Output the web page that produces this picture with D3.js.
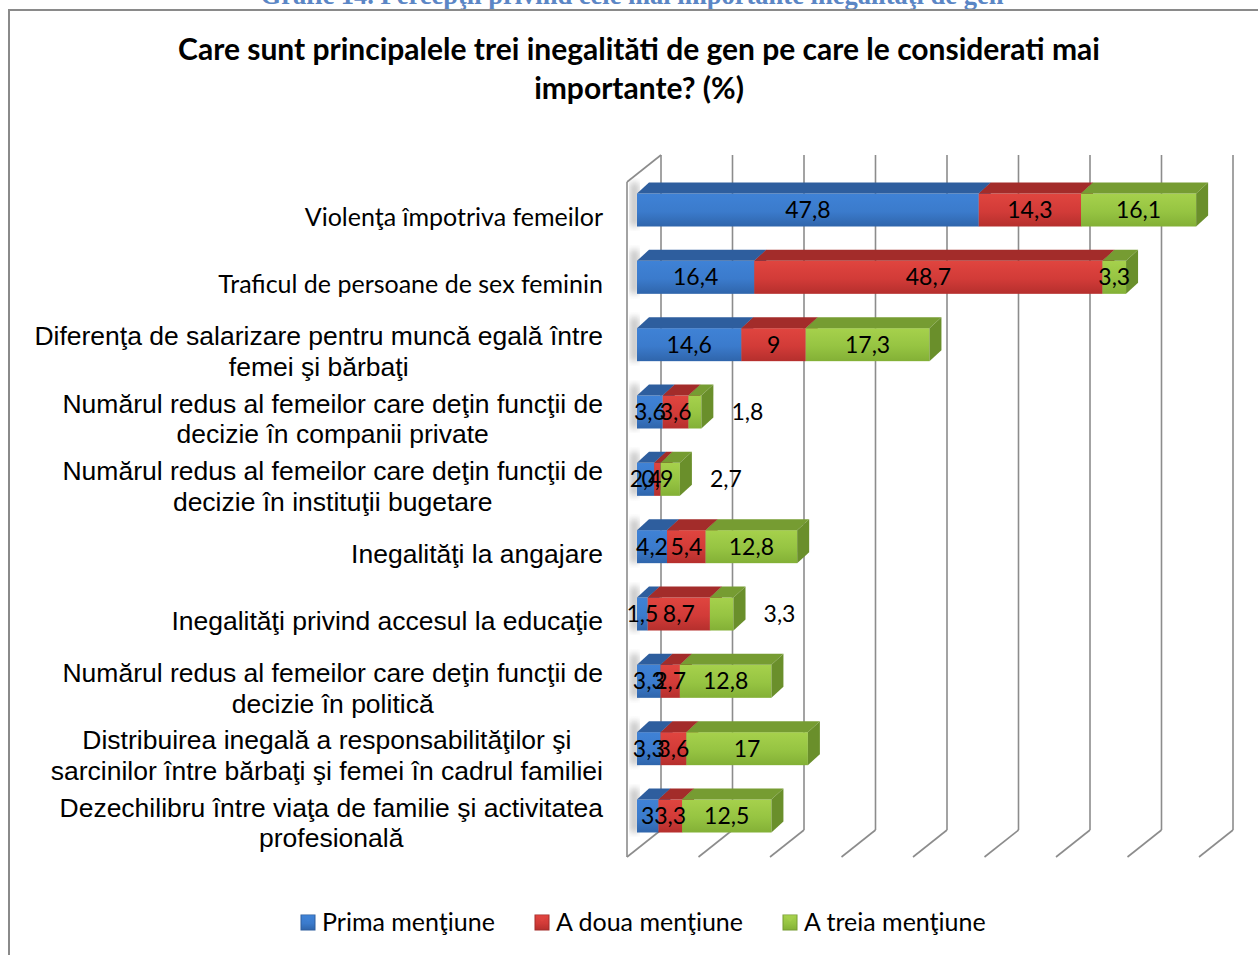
<!DOCTYPE html>
<html>
<head>
<meta charset="utf-8">
<script src="https://cdn.jsdelivr.net/npm/d3@7"></script>
<style>
  body { margin: 0; background: #fff; }
  svg { display: block; }
</style>
</head>
<body>
<div id="chart"></div>
<script>
// categories, top to bottom (\n = line break)
var categories = [
  "Violenţa împotriva femeilor",
  "Traficul de persoane de sex feminin",
  "Diferenţa de salarizare pentru muncă egală între\nfemei şi bărbaţi",
  "Numărul redus al femeilor care deţin funcţii de\ndecizie în companii private",
  "Numărul redus al femeilor care deţin funcţii de\ndecizie în instituţii bugetare",
  "Inegalităţi la angajare",
  "Inegalităţi privind accesul la educaţie",
  "Numărul redus al femeilor care deţin funcţii de\ndecizie în politică",
  "Distribuirea inegală a responsabilităţilor şi\nsarcinilor între bărbaţi şi femei în cadrul familiei",
  "Dezechilibru între viaţa de familie şi activitatea\nprofesională"
];
var prima  = [47.8, 16.4, 14.6, 3.6, 2.4, 4.2, 1.5, 3.3, 3.3, 3];
var aDoua  = [14.3, 48.7, 9, 3.6, 0.9, 5.4, 8.7, 2.7, 3.6, 3.3];
var aTreia = [16.1, 3.3, 17.3, 1.8, 2.7, 12.8, 3.3, 12.8, 17, 12.5];
var seriesNames = ["Prima menţiune", "A doua menţiune", "A treia menţiune"];
var xTicks = [0, 10, 20, 30, 40, 50, 60, 70, 80];

var W = 1258, H = 955;
var svg = d3.select("#chart").append("svg").attr("width", W).attr("height", H);
var defs = svg.append("defs");

// colours: front gradient (top, mid, bottom), top face, right face
var colors = [
  { f: ["#3f82d6", "#3b7bcc", "#2f65ab"], top: "#2e5e9e", side: "#2a558f" },
  { f: ["#e0453f", "#d23b38", "#b52f2d"], top: "#a32c2a", side: "#8e2624" },
  { f: ["#a6d14c", "#96c442", "#83b036"], top: "#769c32", side: "#6a8f2b" }
];
colors.forEach(function (c, i) {
  var g = defs.append("linearGradient").attr("id", "g" + i)
    .attr("x1", 0).attr("y1", 0).attr("x2", 0).attr("y2", 1);
  g.append("stop").attr("offset", "0%").attr("stop-color", c.f[0]);
  g.append("stop").attr("offset", "55%").attr("stop-color", c.f[1]);
  g.append("stop").attr("offset", "100%").attr("stop-color", c.f[2]);
});
defs.append("filter").attr("id", "blur").append("feGaussianBlur").attr("stdDeviation", 3);

// header (cut at top) and frame
svg.append("text")
  .attr("x", 632).attr("y", 4)
  .attr("text-anchor", "middle")
  .style("font-family", "'Liberation Serif', serif")
  .style("font-weight", "bold").style("font-size", "26.5px")
  .style("fill", "#5b86c5")
  .text("Grafic 14. Percepţii privind cele mai importante inegalităţi de gen");

svg.append("rect")
  .attr("x", 9).attr("y", 10).attr("width", 1270).attr("height", 960)
  .attr("fill", "none").attr("stroke", "#8a8a8a").attr("stroke-width", 2);

// title
var title = svg.append("text")
  .attr("text-anchor", "middle")
  .style("font-family", "Lato, sans-serif")
  .style("font-weight", "bold").style("font-size", "30px")
  .style("fill", "#000");
title.append("tspan").attr("x", 639).attr("y", 60)
  .text("Care sunt principalele trei inegalităti de gen pe care le considerati mai");
title.append("tspan").attr("x", 639).attr("y", 99).text("importante? (%)");

// scales
var x = d3.scaleLinear().domain([0, 80]).range([637, 1209]);
var y = d3.scalePoint().domain(d3.range(categories.length)).range([210, 816]);
var BH = 33, DX = 12, DY = 11;
var backOff = 24, frontOff = -10, wallTop = 155, wallBottom = 830, depthY = 27;

// walls / gridlines
var grid = svg.append("g").attr("stroke", "#8c8c8c").attr("stroke-width", 1.6).attr("fill", "none");
grid.selectAll("line.v").data(xTicks).enter().append("line")
  .attr("x1", function (d) { return x(d) + backOff; })
  .attr("x2", function (d) { return x(d) + backOff; })
  .attr("y1", wallTop).attr("y2", wallBottom);
grid.selectAll("line.f").data(xTicks).enter().append("line")
  .attr("x1", function (d) { return x(d) + backOff; })
  .attr("x2", function (d) { return x(d) + frontOff; })
  .attr("y1", wallBottom).attr("y2", wallBottom + depthY);
grid.append("line")
  .attr("x1", x(0) + backOff).attr("y1", wallTop)
  .attr("x2", x(0) + frontOff).attr("y2", wallTop + depthY);
grid.append("line")
  .attr("x1", x(0) + frontOff).attr("y1", wallTop + depthY)
  .attr("x2", x(0) + frontOff).attr("y2", wallBottom + depthY);

// data rows
var rows = categories.map(function (c, i) {
  return { cat: c, p: prima[i], d: aDoua[i], t: aTreia[i] };
});
var stacked = d3.stack().keys(["p", "d", "t"])(rows);
var fmt = function (v) { return String(v).replace(".", ","); };

// bar shadows on the side wall
svg.append("g").selectAll("rect").data(rows).enter().append("rect")
  .attr("x", x(0) - 7).attr("width", 9)
  .attr("y", function (d, i) { return y(i) - BH / 2 - DY; })
  .attr("height", BH + DY)
  .attr("fill", "#9a9a9a").attr("opacity", 0.55)
  .attr("filter", "url(#blur)");

var bars = svg.append("g");
rows.forEach(function (r, i) {
  var top = y(i) - BH / 2;
  stacked.forEach(function (s, k) {
    var x0 = x(s[i][0]), x1 = x(s[i][1]);
    bars.append("rect")
      .attr("x", x0).attr("y", top).attr("width", x1 - x0).attr("height", BH)
      .attr("fill", "url(#g" + k + ")");
    bars.append("path")
      .attr("d", "M" + x0 + "," + top + "L" + (x0 + DX) + "," + (top - DY) +
        "L" + (x1 + DX) + "," + (top - DY) + "L" + x1 + "," + top + "Z")
      .attr("fill", colors[k].top);
    bars.append("path")
      .attr("d", "M" + x1 + "," + top + "L" + (x1 + DX) + "," + (top - DY) +
        "L" + (x1 + DX) + "," + (top + BH - DY) + "L" + x1 + "," + (top + BH) + "Z")
      .attr("fill", colors[k].side);
  });
});

// value labels (some small last segments have their label pushed outside, as in the original)
var outsideLabels = { 3: true, 4: true, 6: true };
var labels = svg.append("g")
  .style("font-family", "Lato, sans-serif").style("font-size", "23px")
  .attr("text-anchor", "middle").style("fill", "#000");
stacked.forEach(function (s, k) {
  s.forEach(function (seg, i) {
    var cx = (x(seg[0]) + x(seg[1])) / 2;
    if (k === 2 && outsideLabels[i]) cx = x(seg[1]) + 46;
    labels.append("text")
      .attr("x", cx).attr("y", y(i) + 8)
      .text(fmt(seg.data[s.key]));
  });
});

// category labels
var catG = svg.append("g").style("fill", "#000");
rows.forEach(function (r, i) {
  var lines = r.cat.split("\n");
  var calibri = i < 2;
  var t = catG.append("text")
    .attr("text-anchor", "middle")
    .style("font-family", calibri ? "Lato, sans-serif" : "'Liberation Sans', Arial, sans-serif")
    .style("font-size", calibri ? "25px" : "26.5px");
  var cy = y(i) + 7;
  var lh = 30.5;
  var y0 = cy - (lines.length - 1) * lh / 2 + 9;
  var spans = lines.map(function (l, j) {
    return t.append("tspan").attr("y", y0 + j * lh).text(l);
  });
  var maxW = d3.max(spans, function (sp) { return sp.node().getComputedTextLength(); });
  spans.forEach(function (sp) { sp.attr("x", 603 - maxW / 2); });
});

// legend
var legX = [301, 535, 783];
var leg = svg.append("g");
seriesNames.forEach(function (n, k) {
  leg.append("rect").attr("x", legX[k]).attr("y", 915).attr("width", 14).attr("height", 15)
    .attr("fill", "url(#g" + k + ")").attr("stroke", colors[k].top).attr("stroke-width", 1);
  leg.append("path")
    .attr("d", "M" + legX[k] + ",915L" + (legX[k] + 14) + ",915L" + (legX[k] + 7) + ",922Z")
    .attr("fill", colors[k].f[0]).attr("opacity", 0.6);
  leg.append("text").attr("x", legX[k] + 21).attr("y", 931)
    .style("font-family", "Lato, sans-serif").style("font-size", "25px")
    .text(n);
});
</script>
</body>
</html>
